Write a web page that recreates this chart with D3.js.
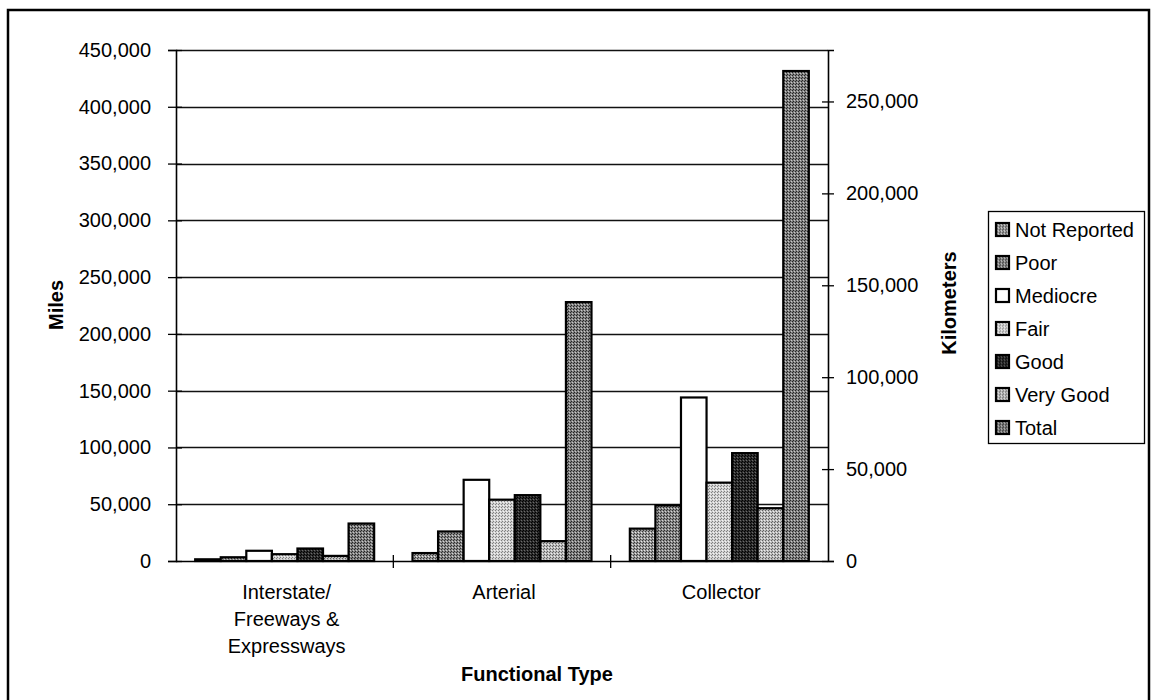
<!DOCTYPE html>
<meta charset="utf-8">
<style>
body { margin: 0; background: white; }
svg text { font-family: Arial, "Liberation Sans", sans-serif; fill: #000; }
.axis-title { font-weight: bold; }
</style>
<body>
<svg width="1152" height="700"></svg>
<script src="https://d3js.org/d3.v7.min.js"></script>
<script>

// chart data
var categories = ["Interstate", "Arterial", "Collector"];
var categoryLines = [["Interstate/", "Freeways &", "Expressways"], ["Arterial"], ["Collector"]];
var seriesNames = ["Not Reported", "Poor", "Mediocre", "Fair", "Good", "Very Good", "Total"];
var notReported = [1500, 7000, 28500];
var poor = [3300, 26000, 49000];
var mediocre = [9000, 71500, 144000];
var fair = [6000, 54000, 69000];
var good = [11000, 58000, 95000];
var veryGood = [4500, 17500, 46500];
var total = [33000, 228000, 431500];
var milesTicks = [0, 50000, 100000, 150000, 200000, 250000, 300000, 350000, 400000, 450000];
var kmTicks = [0, 50000, 100000, 150000, 200000, 250000];

var seriesValues = [notReported, poor, mediocre, fair, good, veryGood, total];

var svg = d3.select("svg");
var plotL = 176, plotR = 828, plotT = 50, plotB = 561;

// outer frame
svg.append("rect")
    .attr("x", 8).attr("y", 10)
    .attr("width", 1141).attr("height", 700)
    .attr("fill", "white")
    .attr("stroke", "#000")
    .attr("stroke-width", 2.5);

// halftone-ish fills
var defs = svg.append("defs");
var fills = [
  {base: "#999999", dot: "#3a3a3a", light: "#e8e8e8"},
  {base: "#888888", dot: "#2e2e2e", light: "#d4d4d4"},
  {base: "#ffffff", dot: "#ffffff", light: "#ffffff"},
  {base: "#d2d2d2", dot: "#808080", light: "#f4f4f4"},
  {base: "#2c2c2c", dot: "#000", light: "#6a6a6a"},
  {base: "#bbbbbb", dot: "#606060", light: "#eeeeee"},
  {base: "#808080", dot: "#262626", light: "#c8c8c8"}
];
fills.forEach(function(f, i) {
  var p = defs.append("pattern")
      .attr("id", "pat" + i)
      .attr("patternUnits", "userSpaceOnUse")
      .attr("width", 3).attr("height", 3);
  p.append("rect").attr("width", 3).attr("height", 3).attr("fill", f.base);
  p.append("rect").attr("x", 0).attr("y", 0).attr("width", 1).attr("height", 1).attr("fill", f.dot);
  p.append("rect").attr("x", 2).attr("y", 1).attr("width", 1).attr("height", 1).attr("fill", f.light);
  p.append("rect").attr("x", 1).attr("y", 2).attr("width", 1).attr("height", 1).attr("fill", f.dot);
});

var x = d3.scaleBand().domain(categories).range([plotL, plotR]);
var bw = x.bandwidth();
var gap = bw * 1.5 / 8.5;
var xs = d3.scaleBand().domain(seriesNames).range([gap / 2, bw - gap / 2]);

var y = d3.scaleLinear().domain([0, 450000]).range([plotB, plotT]);
var yKm = d3.scaleLinear().domain([0, 278000]).range([plotB, plotT]);

var fmt = d3.format(",");

// gridlines
svg.append("g").selectAll("line")
    .data(milesTicks.slice(1))
  .enter().append("line")
    .attr("x1", plotL).attr("x2", plotR)
    .attr("y1", function(d) { return Math.round(y(d)) + 0.5; })
    .attr("y2", function(d) { return Math.round(y(d)) + 0.5; })
    .attr("stroke", "#111")
    .attr("stroke-width", 1.3);

// bars
var groups = svg.append("g").selectAll("g")
    .data(seriesNames)
  .enter().append("g")
    .attr("fill", function(d, i) { return "url(#pat" + i + ")"; });

groups.selectAll("rect")
    .data(function(d, i) {
      return categories.map(function(c, j) { return {cat: c, s: d, v: seriesValues[i][j]}; });
    })
  .enter().append("rect")
    .attr("x", function(d) { return x(d.cat) + xs(d.s); })
    .attr("width", xs.bandwidth())
    .attr("y", function(d) { return y(d.v); })
    .attr("height", function(d) { return plotB - y(d.v); })
    .attr("stroke", "#000")
    .attr("stroke-width", 2.2);

// left axis
var yAxis = d3.axisLeft(y).tickValues(milesTicks).tickFormat(fmt).tickSize(8).tickPadding(17);
var gy = svg.append("g")
    .attr("transform", "translate(" + plotL + ",0)")
    .call(yAxis);
gy.select(".domain").attr("stroke", "#000").attr("stroke-width", 1.6);
gy.selectAll(".tick line").attr("x2", -8).attr("x1", 6).attr("stroke", "#000").attr("stroke-width", 1.3);
gy.selectAll("text").attr("font-size", 20).attr("font-family", "Arial, 'Liberation Sans'");

// right axis
var yAxisR = d3.axisRight(yKm).tickValues(kmTicks).tickFormat(fmt).tickSize(6).tickPadding(12);
var gr = svg.append("g")
    .attr("transform", "translate(" + plotR + ",0)")
    .call(yAxisR);
gr.select(".domain").attr("stroke", "#000").attr("stroke-width", 1.6);
gr.selectAll(".tick line").attr("x1", -6).attr("stroke", "#000").attr("stroke-width", 1.3);
gr.selectAll("text").attr("font-size", 20).attr("font-family", "Arial, 'Liberation Sans'");

// bottom axis
svg.append("line")
    .attr("x1", plotL).attr("x2", plotR)
    .attr("y1", plotB + 0.5).attr("y2", plotB + 0.5)
    .attr("stroke", "#000").attr("stroke-width", 1.6);
svg.append("g").selectAll("line")
    .data(categories.slice(1))
  .enter().append("line")
    .attr("x1", function(d) { return x(d); })
    .attr("x2", function(d) { return x(d); })
    .attr("y1", plotB - 6).attr("y2", plotB + 7)
    .attr("stroke", "#000").attr("stroke-width", 1.3);

var catLabels = svg.append("g").selectAll("text")
    .data(categories)
  .enter().append("text")
    .attr("text-anchor", "middle")
    .attr("font-size", 20)
    .attr("x", function(d) { return x(d) + bw / 2 + 2; })
    .attr("y", 599);
catLabels.selectAll("tspan")
    .data(function(d, i) { return categoryLines[i]; })
  .enter().append("tspan")
    .attr("x", function() { return d3.select(this.parentNode).attr("x"); })
    .attr("dy", function(d, i) { return i == 0 ? 0 : 27; })
    .text(function(d) { return d; });

// axis titles
svg.append("text")
    .attr("class", "axis-title")
    .attr("font-size", 20)
    .attr("text-anchor", "middle")
    .attr("transform", "translate(63,305) rotate(-90)")
    .text("Miles");
svg.append("text")
    .attr("class", "axis-title")
    .attr("font-size", 20)
    .attr("text-anchor", "middle")
    .attr("transform", "translate(956,303) rotate(-90)")
    .text("Kilometers");
svg.append("text")
    .attr("class", "axis-title")
    .attr("font-size", 20)
    .attr("text-anchor", "middle")
    .attr("x", 537).attr("y", 681)
    .text("Functional Type");

// legend
var legend = svg.append("g");
legend.append("rect")
    .attr("x", 988.5).attr("y", 211.5)
    .attr("width", 156).attr("height", 232)
    .attr("fill", "white")
    .attr("stroke", "#000").attr("stroke-width", 1.3);
var items = legend.selectAll("g.item")
    .data(seriesNames)
  .enter().append("g")
    .attr("class", "item")
    .attr("transform", function(d, i) { return "translate(0," + (229.5 + i * 33) + ")"; });
items.append("rect")
    .attr("x", 996).attr("y", -6.5)
    .attr("width", 13).attr("height", 13)
    .attr("fill", function(d, i) { return "url(#pat" + i + ")"; })
    .attr("stroke", "#000").attr("stroke-width", 2.2);
items.append("text")
    .attr("x", 1015).attr("y", 7)
    .attr("font-size", 20)
    .text(function(d) { return d; });

</script>
</body>
